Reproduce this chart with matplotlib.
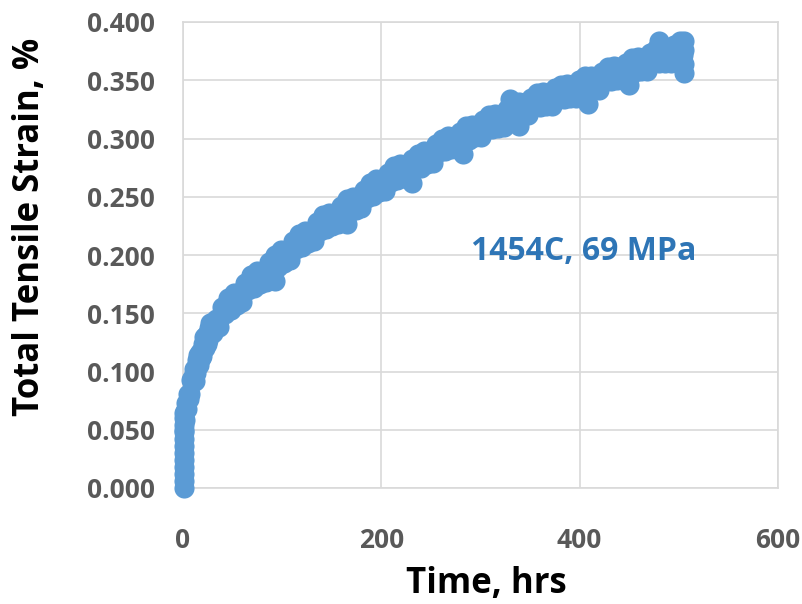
import matplotlib
import matplotlib.pyplot as plt

matplotlib.use("Agg")
plt.rcParams["font.family"] = ["Open Sans", "DejaVu Sans"]

# creep record, 1454C / 69 MPa
start_time = [1.0, 1.0, 1.0, 1.0, 1.0, 1.0, 1.0, 1.0, 1.0, 1.0, 1.0,
              1.5, 1.5, 2.0, 2.5]
start_strain = [0.000, 0.006, 0.012, 0.018, 0.024, 0.030, 0.036, 0.042,
                0.048, 0.054, 0.060, 0.050, 0.064, 0.058, 0.066]

early_time = [4, 5, 7, 8, 10, 11, 13, 14, 16, 17, 19, 20, 22, 23, 25, 26]
early_strain = [0.068, 0.081, 0.081, 0.093, 0.091, 0.102, 0.099, 0.110,
                0.106, 0.117, 0.113, 0.124, 0.120, 0.131, 0.127, 0.137]

time_hrs = [
    3, 6, 9, 12, 15, 18, 21, 24, 27, 30, 33, 36, 39, 42, 45, 48, 51, 54, 57, 60,
    63, 66, 69, 72, 75, 78, 81, 84, 87, 90, 93, 96, 99, 102, 105, 108, 111, 114,
    117, 120, 123, 126, 129, 132, 135, 138, 141, 144, 147, 150, 153, 156, 159,
    162, 165, 168, 171, 174, 177, 180, 183, 186, 189, 192, 195, 198, 201, 204,
    207, 210, 213, 216, 219, 222, 225, 228, 231, 234, 237, 240, 243, 246, 249,
    252, 255, 258, 261, 264, 267, 270, 273, 276, 279, 282, 285, 288, 291, 294,
    297, 300, 303, 306, 309, 312, 315, 318, 321, 324, 327, 330, 333, 336, 339,
    342, 345, 348, 351, 354, 357, 360, 363, 366, 369, 372, 375, 378, 381, 384,
    387, 390, 393, 396, 399, 402, 405, 408, 411, 414, 417, 420, 423, 426, 429,
    432, 435, 438, 441, 444, 447, 450, 453, 456, 459, 462, 465, 468, 471, 474,
    477, 480, 483, 486, 489, 492, 495, 498, 501, 504,
]
strain_pct = [
    0.073, 0.076, 0.094, 0.092, 0.114, 0.112, 0.130, 0.124, 0.142, 0.133,
    0.145, 0.138, 0.155, 0.149, 0.163, 0.153, 0.167, 0.157, 0.168, 0.160,
    0.176, 0.170, 0.183, 0.172, 0.186, 0.175, 0.185, 0.177, 0.194, 0.187,
    0.200, 0.190, 0.204, 0.193, 0.204, 0.196, 0.212, 0.205, 0.218, 0.207,
    0.221, 0.210, 0.220, 0.212, 0.228, 0.221, 0.234, 0.222, 0.236, 0.225,
    0.235, 0.227, 0.242, 0.235, 0.248, 0.237, 0.250, 0.239, 0.249, 0.240,
    0.256, 0.249, 0.262, 0.251, 0.265, 0.254, 0.263, 0.255, 0.270, 0.263,
    0.276, 0.264, 0.278, 0.266, 0.275, 0.267, 0.282, 0.274, 0.287, 0.275,
    0.289, 0.278, 0.288, 0.279, 0.295, 0.288, 0.300, 0.289, 0.302, 0.291,
    0.300, 0.291, 0.306, 0.299, 0.311, 0.299, 0.312, 0.301, 0.310, 0.301,
    0.316, 0.308, 0.320, 0.308, 0.321, 0.309, 0.318, 0.310, 0.325, 0.317,
    0.330, 0.318, 0.331, 0.320, 0.329, 0.320, 0.335, 0.327, 0.339, 0.327,
    0.340, 0.328, 0.337, 0.328, 0.343, 0.335, 0.346, 0.334, 0.347, 0.335,
    0.344, 0.335, 0.350, 0.342, 0.354, 0.341, 0.354, 0.342, 0.351, 0.342,
    0.357, 0.349, 0.361, 0.349, 0.362, 0.350, 0.359, 0.350, 0.365, 0.357,
    0.369, 0.357, 0.370, 0.358, 0.367, 0.358, 0.373, 0.365, 0.377, 0.365,
    0.378, 0.365, 0.374, 0.365, 0.380, 0.372, 0.384, 0.372,
]

# scattered readings off the main band
extra_time = [93, 165, 231, 282, 339, 408, 450, 330, 480, 505, 505, 505, 505]
extra_strain = [0.178, 0.227, 0.262, 0.287, 0.311, 0.330, 0.346, 0.334,
                0.384, 0.356, 0.364, 0.376, 0.384]

label = "1454C, 69 MPa"
label_xy = (404, 0.203)

blue = "#5B9BD5"
grid = "#D9D9D9"
tick_grey = "#595959"

fig = plt.figure(figsize=(8.03, 6.04), dpi=100)
ax = fig.add_axes([183 / 803, 1 - 488 / 604, 595 / 803, 466 / 604])

ax.scatter(start_time + early_time + time_hrs + extra_time,
           start_strain + early_strain + strain_pct + extra_strain,
           s=210, color=blue, linewidths=0, zorder=3, clip_on=False)

ax.set_xlim(0, 600)
ax.set_ylim(0, 0.4)
ax.set_xticks([0, 200, 400, 600])
ax.set_yticks([0.0, 0.05, 0.10, 0.15, 0.20, 0.25, 0.30, 0.35, 0.40])
ax.yaxis.set_major_formatter(matplotlib.ticker.FormatStrFormatter("%.3f"))
ax.grid(True, color=grid, linewidth=1.2)
ax.set_axisbelow(True)
for sp in ax.spines.values():
    sp.set_color(grid)
    sp.set_linewidth(1.2)
ax.tick_params(length=0, labelsize=19, labelcolor=tick_grey)
ax.tick_params(axis="x", pad=28)
ax.tick_params(axis="y", pad=20)
for t in ax.get_xticklabels() + ax.get_yticklabels():
    t.set_fontweight("bold")

fig.text(486 / 803, 1 - 584 / 604, "Time, hrs", fontsize=25,
         fontweight="bold", ha="center", va="center")
fig.text(30 / 803, 1 - 227 / 604, "Total Tensile Strain, %", fontsize=25,
         fontweight="bold", ha="center", va="center", rotation=90)
ax.text(*label_xy, label, fontsize=23, fontweight="bold", color="#2E75B6",
        ha="center", va="center")

fig.savefig("out.png", dpi=100)
